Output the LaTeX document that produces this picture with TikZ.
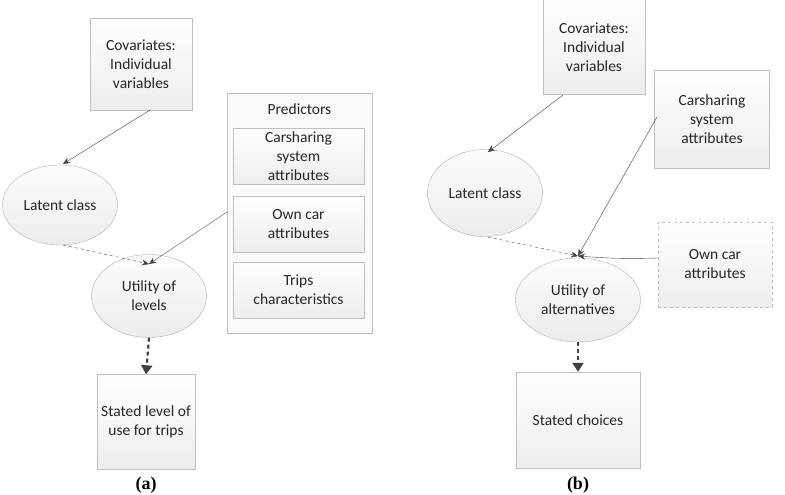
\documentclass[tikz,border=0pt]{standalone}
\usepackage{fontspec}
\setmainfont{Carlito}
\newfontfamily\serifb{Liberation Serif}
\usetikzlibrary{shapes.geometric,arrows.meta}
\tikzset{
 bx/.style={draw=gray!50,top color=white,bottom color=gray!14,align=center,font=\fontsize{15.5}{19}\selectfont,text=black!85},
 el/.style={ellipse,draw=gray!70,dash pattern=on 2pt off 0.5pt,top color=gray!2,bottom color=gray!15,align=center,font=\fontsize{15.5}{19}\selectfont,inner sep=0pt,text=black!85},
 ar/.style={draw=black!75,-{Stealth[length=7pt,width=6pt]}},
 dar/.style={draw=black!75,dashed,-{Stealth[length=7pt,width=6pt]}},
 tar/.style={draw=black!75,line width=2.2pt,dash pattern=on 4pt off 3pt,-{Triangle[length=9pt,width=11pt]}},
 lab/.style={font=\serifb\bfseries\fontsize{18}{20}\selectfont}
}
\begin{document}
\begin{tikzpicture}[x=1pt,y=-1pt]
\useasboundingbox (0,0) rectangle (785,495);
% (a)
\node[bx,minimum width=102pt,minimum height=92pt] (cova) at (141,64) {Covariates:\\Individual\\variables};
\node[el,minimum width=115pt,minimum height=80pt] (lata) at (60,205) {Latent class};
\node[el,minimum width=115pt,minimum height=83pt] (utila) at (149,296) {Utility of\\levels};
\node[bx,minimum width=98pt,minimum height=95pt] (stata) at (146,422) {Stated level of\\use for trips};
\node[draw=gray!50,fill=gray!4,minimum width=145pt,minimum height=240pt] (pred) at (299.5,213) {};
\node[font=\fontsize{15.5}{19}\selectfont,text=black!85] (predt) at (299.5,109) {Predictors};
\node[bx,minimum width=131pt,minimum height=56pt] (csa) at (298.5,156) {Carsharing\\system\\attributes};
\node[bx,minimum width=131pt,minimum height=56pt] (oca) at (298.5,224) {Own car\\attributes};
\node[bx,minimum width=131pt,minimum height=56pt] (tra) at (298.5,290) {Trips\\characteristics};
\coordinate (ua) at (149,264);
\draw[ar] (150,110) -- (63,164);
\draw[ar] (227,212) -- (ua);
\draw[dar] (63,245) -- (ua);
\draw[tar] (utila.south) -- (stata.north);
\node[lab] (la) at (146,485) {(a)};
% (b)
\node[bx,minimum width=102pt,minimum height=95pt] (covb) at (594,47) {Covariates:\\Individual\\variables};
\node[bx,minimum width=115pt,minimum height=98pt] (csb) at (712,119) {Carsharing\\system\\attributes};
\node[el,minimum width=115pt,minimum height=87pt] (latb) at (485,193) {Latent class};
\node[bx,draw=gray!50,dashed,minimum width=114pt,minimum height=85pt] (ocb) at (715,264.5) {Own car\\attributes};
\node[el,minimum width=125pt,minimum height=84pt] (utilb) at (578,300) {Utility of\\alternatives};
\node[bx,minimum width=124pt,minimum height=96pt] (statb) at (578,420) {Stated choices};
\coordinate (ub) at (578,256);
\draw[ar] (563,95) -- (488,152);
\draw[ar] (657,117) -- (ub);
\draw[ar] (658,258) to[bend left=3] (ub);
\draw[dar] (488,237) -- (ub);
\draw[tar] (utilb.south) -- (statb.north);
\node[lab] (lb) at (578,485) {(b)};
\end{tikzpicture}
\end{document}
